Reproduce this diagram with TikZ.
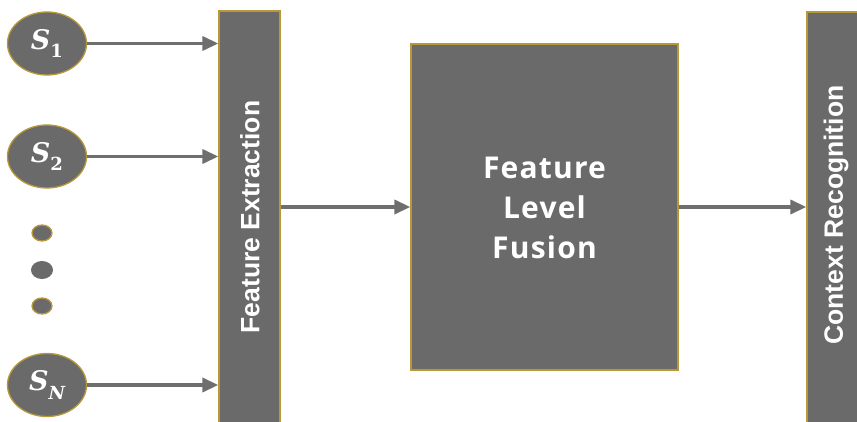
\documentclass[tikz,border=0pt]{standalone}
\usepackage{fontspec}
\setmainfont{Liberation Sans}
\newfontfamily\fusionfont[LetterSpace=4]{Open Sans}
\newfontfamily\sensfont{DejaVu Serif}
\usetikzlibrary{arrows.meta,calc,shapes.geometric}
\definecolor{boxgray}{HTML}{6A6A6A}
\definecolor{gold}{HTML}{B8983A}
\definecolor{arrowgray}{HTML}{6E6E6E}
\newcommand{\sens}[2]{{\bfseries\itshape S}\raisebox{-0.32em}{\fontsize{18}{20}\selectfont\bfseries #2#1}}
\begin{document}
\begin{tikzpicture}[x=1pt,y=-1pt,
  blk/.style={draw=gold,line width=1.3pt,fill=boxgray,inner sep=0pt,text=white},
  sens/.style={blk,ellipse,minimum width=79pt,minimum height=63pt,font=\sensfont\fontsize{27}{30}\selectfont},
  dotg/.style={blk,ellipse,minimum width=20pt,minimum height=16pt},
  dotp/.style={ellipse,fill=boxgray,inner sep=0pt,minimum width=22pt,minimum height=18pt},
  conn/.style={draw=arrowgray,line width=3.5pt,-{Triangle[length=16pt,width=14pt]}},
  vlab/.style={rotate=90,font=\fontsize{26.5}{30}\selectfont\bfseries,text=white}
]
\useasboundingbox (0,0) rectangle (857,422);
\clip (0,0) rectangle (857,422);
\node[sens] (s1) at (47,43.5) {\sens{1}{}};
\node[sens] (s2) at (47,156.5) {\sens{2}{}};
\node[sens] (sn) at (47,385) {\sens{N}{\itshape}};
\node[dotg] (d1) at (42,233) {};
\node[dotp] (d2) at (42,270) {};
\node[dotg] (d3) at (42,306) {};
\node[blk,minimum width=61pt,minimum height=422pt] (fe) at (249.5,222) {};
\node[vlab] (fet) at (250,217) {Feature Extraction};
\node[blk,minimum width=267pt,minimum height=326pt] (fu) at (544.5,207) {};
\node[align=center,text=white,font=\fusionfont\bfseries\fontsize{30}{40}\selectfont] (fut) at (544.5,208) {Feature\\Level\\Fusion};
\node[blk,minimum width=60pt,minimum height=422pt] (cr) at (837,223) {};
\node[vlab] (crt) at (836,215) {Context Recognition};
\draw[conn] (s1.east) -- (s1.east -| fe.west);
\draw[conn] (s2.east) -- (s2.east -| fe.west);
\draw[conn] (sn.east) -- (sn.east -| fe.west);
\draw[conn] (fe.east |- fu.west) -- (fu.west);
\draw[conn] (fu.east) -- (fu.east -| cr.west);
\end{tikzpicture}
\end{document}
